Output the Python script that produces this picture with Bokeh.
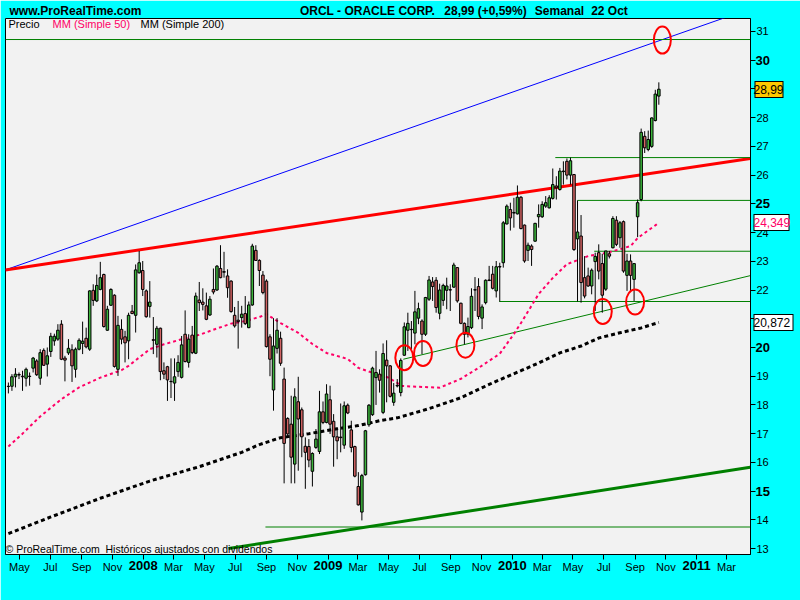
import pandas as pd
from bokeh.plotting import figure
from bokeh.models import Range1d, FixedTicker, Label, LinearAxis
from bokeh.embed import file_html
from bokeh.resources import INLINE

FONT = "Liberation Sans"
EPOCH = pd.Timestamp("2007-01-01")

# ORCL weekly bars, one per week (Monday), Apr 2007 - Oct 2010
first_week = "2007-04-09"
opens = [
    18.64, 18.65, 18.98, 19.06, 19.00, 18.93, 19.00, 19.28, 19.53, 18.93,
    19.90, 19.42, 19.86, 20.23, 20.29, 20.81, 19.63, 19.81, 19.92, 19.24,
    19.94, 20.14, 20.32, 19.94, 21.99, 21.62, 22.02, 22.54, 20.60, 21.47,
    21.82, 19.24, 20.63, 20.37, 20.23, 21.26, 21.12, 22.60, 22.68, 21.97,
    21.43, 20.27, 20.11, 20.67, 19.19, 19.33, 18.82, 18.76, 19.16, 18.96,
    20.46, 19.48, 20.43, 19.80, 21.65, 21.58, 21.45, 21.13, 22.02, 22.00,
    22.75, 22.64, 22.49, 22.31, 21.12, 20.95, 21.04, 21.18, 20.69, 21.48,
    23.38, 23.03, 22.52, 22.31, 20.37, 18.52, 19.97, 20.32, 18.90, 17.53,
    17.33, 15.94, 18.11, 17.83, 16.56, 16.55, 15.69, 16.52, 16.38, 17.76,
    17.39, 18.18, 17.43, 16.89, 16.88, 16.60, 17.99, 17.13, 16.55, 15.16,
    14.27, 15.57, 17.31, 17.66, 18.95, 19.07, 17.74, 19.56, 19.36, 18.09,
    18.68, 18.43, 19.73, 20.60, 20.63, 20.50, 21.02, 20.92, 20.46, 21.68,
    22.28, 22.34, 21.19, 21.64, 21.99, 22.01, 22.10, 22.78, 21.54, 20.84,
    20.46, 20.69, 22.01, 22.12, 21.02, 21.56, 22.35, 22.55, 21.97, 22.82,
    22.95, 24.30, 24.80, 24.70, 24.65, 25.23, 24.26, 23.38, 23.53, 23.70,
    24.55, 24.55, 24.92, 24.86, 25.19, 25.62, 25.50, 26.12, 26.48, 26.00,
    26.02, 23.78, 23.88, 22.43, 22.49, 22.14, 22.99, 23.30, 22.92, 22.03,
    23.26, 23.47, 24.43, 23.82, 24.38, 22.51, 23.01, 22.37, 24.55, 25.15,
    27.35, 26.89, 27.00, 27.90, 28.75,
]
highs = [
    18.78, 19.07, 19.28, 19.13, 19.19, 19.30, 19.13, 19.67, 19.59, 19.94,
    19.97, 20.00, 20.51, 20.48, 20.81, 20.95, 19.71, 20.29, 20.11, 20.00,
    20.32, 20.90, 20.69, 21.99, 22.20, 22.54, 22.98, 22.57, 21.45, 22.06,
    21.85, 21.10, 20.98, 20.58, 21.21, 21.48, 22.89, 23.36, 23.01, 22.02,
    22.31, 21.06, 20.75, 20.69, 19.48, 19.36, 19.62, 19.62, 19.73, 20.40,
    21.29, 20.46, 20.75, 21.91, 22.28, 22.06, 21.91, 21.79, 22.75, 22.87,
    23.56, 23.33, 22.72, 22.34, 21.41, 21.62, 21.45, 21.79, 21.60, 23.61,
    23.56, 23.07, 22.66, 22.37, 20.46, 21.02, 21.02, 20.55, 19.30, 17.57,
    18.32, 18.58, 18.98, 17.91, 16.87, 16.81, 16.35, 17.16, 18.49, 18.12,
    18.72, 18.67, 17.68, 17.16, 18.05, 18.12, 18.05, 17.45, 16.58, 15.66,
    15.60, 17.13, 18.03, 19.33, 19.88, 19.24, 20.14, 20.25, 19.39, 18.76,
    18.90, 19.62, 20.87, 21.21, 20.92, 21.97, 21.56, 20.98, 21.76, 22.49,
    22.45, 22.45, 22.22, 22.22, 22.43, 22.20, 22.95, 22.80, 21.56, 20.87,
    21.04, 22.06, 22.45, 22.41, 21.50, 22.37, 22.84, 22.84, 23.01, 22.95,
    24.40, 24.98, 25.04, 25.21, 25.64, 25.27, 24.28, 23.65, 23.59, 24.34,
    24.98, 25.09, 25.27, 25.30, 26.23, 25.96, 26.25, 26.48, 26.58, 26.61,
    26.04, 25.12, 24.61, 23.18, 22.78, 22.75, 23.30, 23.59, 23.26, 23.36,
    23.36, 24.57, 24.57, 24.40, 24.42, 23.26, 23.24, 22.93, 25.15, 27.62,
    27.53, 27.55, 28.01, 28.97, 29.23,
]
lows = [
    18.40, 18.49, 18.61, 18.90, 18.49, 18.64, 18.67, 19.13, 19.01, 18.70,
    19.36, 18.99, 19.67, 20.06, 20.23, 19.56, 18.82, 19.74, 18.80, 18.95,
    19.90, 19.77, 19.97, 19.88, 21.45, 21.58, 21.99, 20.69, 20.58, 21.45,
    19.30, 19.01, 20.11, 19.48, 19.59, 21.16, 20.52, 22.57, 21.79, 21.04,
    21.04, 19.77, 19.65, 18.86, 18.90, 18.14, 18.24, 18.14, 18.98, 18.92,
    19.48, 19.30, 19.77, 19.77, 21.27, 21.29, 20.95, 21.10, 21.85, 21.97,
    22.41, 22.43, 21.73, 21.21, 20.69, 19.96, 20.69, 20.78, 20.67, 21.45,
    23.01, 22.14, 21.85, 20.00, 19.00, 17.80, 19.79, 19.36, 15.27, 16.87,
    15.27, 15.27, 15.71, 16.18, 15.08, 15.83, 15.16, 16.47, 16.29, 17.33,
    17.36, 16.99, 15.85, 16.11, 16.35, 16.47, 17.68, 16.35, 15.48, 14.50,
    13.98, 15.54, 17.24, 17.62, 18.00, 18.43, 17.68, 18.09, 18.26, 17.97,
    18.61, 18.30, 19.71, 19.88, 19.94, 20.11, 20.81, 19.77, 20.40, 21.62,
    21.62, 21.21, 20.98, 21.45, 21.33, 21.27, 22.08, 21.56, 20.81, 20.11,
    20.35, 20.64, 21.27, 20.98, 20.64, 21.50, 22.31, 22.02, 21.74, 21.60,
    22.78, 24.28, 24.07, 24.17, 24.63, 24.11, 22.95, 23.01, 22.84, 23.68,
    24.17, 24.51, 24.86, 24.84, 25.15, 25.15, 25.46, 25.67, 25.85, 25.67,
    23.36, 21.60, 21.56, 21.71, 22.11, 21.85, 21.27, 22.37, 21.21, 21.97,
    23.10, 23.45, 23.53, 23.47, 22.60, 21.97, 21.97, 21.62, 23.84, 25.09,
    26.77, 26.83, 26.95, 27.87, 28.45,
]
closes = [
    18.65, 18.98, 19.07, 19.04, 18.98, 19.24, 18.99, 19.63, 19.05, 19.82,
    19.38, 19.71, 20.39, 20.39, 20.60, 19.59, 19.56, 19.97, 19.36, 19.94,
    20.25, 20.22, 20.02, 21.97, 21.64, 22.16, 22.43, 20.73, 21.33, 22.02,
    19.34, 20.77, 20.29, 20.16, 21.12, 21.18, 22.70, 22.95, 22.02, 21.07,
    21.58, 20.25, 20.67, 19.16, 19.07, 18.87, 18.81, 18.98, 19.48, 20.09,
    19.51, 20.29, 19.82, 21.79, 21.56, 21.50, 20.98, 21.68, 21.93, 22.83,
    22.43, 22.62, 22.08, 21.25, 20.75, 20.90, 21.16, 20.83, 21.48, 23.53,
    23.03, 22.68, 21.91, 20.03, 19.59, 20.05, 20.60, 19.45, 16.66, 16.99,
    16.18, 18.28, 17.51, 16.89, 16.35, 16.08, 16.31, 16.81, 17.76, 17.39,
    18.38, 17.33, 16.89, 16.75, 16.86, 17.97, 17.72, 16.52, 15.52, 14.52,
    15.54, 17.10, 17.99, 19.28, 19.13, 18.86, 19.79, 19.36, 18.30, 18.41,
    18.66, 19.55, 20.72, 20.84, 20.62, 21.24, 21.35, 20.46, 21.74, 22.35,
    22.12, 21.39, 22.00, 22.16, 22.14, 22.00, 22.87, 21.62, 20.84, 20.46,
    20.73, 21.78, 22.00, 21.08, 21.41, 22.34, 22.33, 22.06, 22.81, 22.80,
    24.34, 24.92, 24.51, 24.68, 25.23, 24.14, 23.01, 23.56, 23.41, 24.32,
    24.63, 24.98, 25.04, 25.21, 25.67, 25.56, 26.14, 26.14, 26.00, 26.50,
    23.41, 24.02, 22.26, 21.79, 22.14, 22.69, 23.17, 22.66, 21.82, 23.36,
    23.18, 24.49, 23.59, 24.34, 22.66, 23.01, 22.51, 22.92, 25.04, 27.49,
    26.95, 27.24, 27.99, 28.82, 28.99,
]

# moving averages, sampled at week numbers (1 = first bar)
ma50_week = [1, 5, 10, 16, 21, 27, 33, 35, 38, 41, 45, 51, 55, 60, 64, 68, 72, 74,
             78, 83, 87, 91, 97, 100, 104, 108, 111, 112, 123, 129, 134, 140, 144,
             146, 151, 155, 159, 165, 170, 174, 177, 179, 184, 185]
ma50_value = [16.55, 17.00, 17.60, 18.20, 18.61, 18.95, 19.21, 19.36, 19.65, 19.94,
              20.11, 20.32, 20.44, 20.66, 20.83, 20.92, 21.06, 21.16, 20.85, 20.51,
              20.12, 19.81, 19.60, 19.29, 19.12, 18.98, 18.77, 18.66, 18.60, 18.91,
              19.29, 19.78, 20.47, 20.85, 21.86, 22.42, 22.90, 23.18, 23.29, 23.42,
              23.53, 23.81, 24.25, 24.349]
ma200_week = [1, 13, 27, 41, 55, 67, 72, 78, 86, 94, 100, 106, 111, 120, 129, 138,
              146, 151, 157, 163, 168, 174, 180, 185]
ma200_value = [13.52, 14.10, 14.75, 15.35, 15.85, 16.35, 16.62, 16.86, 17.00, 17.17,
               17.28, 17.45, 17.55, 17.87, 18.25, 18.77, 19.19, 19.46, 19.81, 20.05,
               20.33, 20.51, 20.68, 20.872]

# drawn trend lines: (start date, start price, end date, end price)
blue_trend = ("2007-04-03", 22.70, "2011-04-17", 31.79)
red_trend = ("2007-04-03", 22.70, "2011-04-17", 26.58)
green_base = ("2008-06-18", 13.00, "2011-04-17", 15.83)
green_support = ("2009-05-30", 19.59, "2011-04-17", 22.50)

# horizontal levels and where each one starts
level_price = [30.72, 26.61, 25.12, 23.35, 21.60, 13.75]
level_start = ["2007-04-03", "2010-03-27", "2010-05-10", "2010-06-12", "2009-12-06", "2008-08-30"]
level_end = "2011-04-17"

# circled touches
circle_date = ["2009-06-01", "2009-07-08", "2009-09-30", "2010-06-29", "2010-09-01", "2010-10-25"]
circle_price = [19.64, 19.79, 20.08, 21.25, 21.58, 30.70]

# axis ticks
x_tick_dates = ["2007-05-01", "2007-07-01", "2007-09-01", "2007-11-01", "2008-01-01",
                "2008-03-01", "2008-05-01", "2008-07-01", "2008-09-01", "2008-11-01",
                "2009-01-01", "2009-03-01", "2009-05-01", "2009-07-01", "2009-09-01",
                "2009-11-01", "2010-01-01", "2010-03-01", "2010-05-01", "2010-07-01",
                "2010-09-01", "2010-11-01", "2011-01-01", "2011-03-01"]
x_tick_labels = ["May", "Jul", "Sep", "Nov", "2008", "Mar", "May", "Jul", "Sep", "Nov",
                 "2009", "Mar", "May", "Jul", "Sep", "Nov", "2010", "Mar", "May", "Jul",
                 "Sep", "Nov", "2011", "Mar"]
y_ticks = list(range(13, 32))
y_bold_ticks = [15, 20, 25, 30]

last_close = 28.99
last_change = "+0,59%"
header_texts = ["www.ProRealTime.com", "ORCL - ORACLE CORP.",
                "%s (%s)" % (f"{last_close:.2f}".replace(".", ","), last_change),
                "Semanal", "22 Oct"]
header_centers_px = [75, 367, 485, 559, 609]


def day_num(dates):
    return list(((pd.to_datetime(pd.Series(dates)) - EPOCH) / pd.Timedelta(days=1)).astype(float))


def comma(v, nd):
    return f"{v:.{nd}f}".replace(".", ",")


weeks = day_num(pd.date_range(first_week, periods=len(closes), freq="7D"))

x0 = day_num(["2007-04-03 06:43"])[0]
x1 = day_num(["2011-04-17 12:30"])[0]


def px_to_day(px):
    # horizontal page position -> x coordinate (frame spans 5..750 px)
    return round(x0 + (px - 5) * (x1 - x0) / 745.0, 3)


p = figure(width=800, height=600, output_backend="svg", toolbar_location=None, tools="",
           x_range=Range1d(x0, x1), y_range=Range1d(12.793, 31.452),
           y_axis_location="right",
           min_border_left=5, min_border_right=50, min_border_top=17, min_border_bottom=46,
           background_fill_color="#F2F2F2", border_fill_color="#00FFFF",
           outline_line_color="black", outline_line_width=1)
p.grid.visible = False


def quiet_axis(ax):
    ax.axis_line_color = None
    ax.minor_tick_line_color = None
    ax.major_tick_line_color = None
    ax.major_tick_in = 0
    ax.major_tick_out = 0
    ax.major_label_text_font = FONT
    ax.major_label_text_color = "black"
    return ax


# x axis: month names; years drawn bold on a companion axis
xt = [int(v) for v in day_num(x_tick_dates)]
p.xaxis.ticker = FixedTicker(ticks=xt)
p.xaxis.major_label_overrides = {t: ("" if lab.isdigit() else lab) for t, lab in zip(xt, x_tick_labels)}
p.xaxis.major_tick_out = 5
p.xaxis.major_tick_in = 0
p.xaxis.minor_tick_line_color = None
p.xaxis.major_label_standoff = 1
p.xaxis.major_label_text_font = FONT
p.xaxis.major_label_text_font_size = "11px"
p.xaxis.major_label_text_color = "black"
p.xaxis.axis_line_color = "black"

year_ticks = [t for t, lab in zip(xt, x_tick_labels) if lab.isdigit()]
year_axis = quiet_axis(LinearAxis(ticker=FixedTicker(ticks=year_ticks)))
year_axis.major_label_overrides = {t: lab for t, lab in zip(xt, x_tick_labels) if lab.isdigit()}
year_axis.major_label_text_font_size = "13px"
year_axis.major_label_text_font_style = "bold"
year_axis.major_label_standoff = -15
p.add_layout(year_axis, "below")

# header line
hdr_ticks = [px_to_day(v) for v in header_centers_px]
hdr_axis = quiet_axis(LinearAxis(ticker=FixedTicker(ticks=hdr_ticks)))
hdr_axis.major_label_overrides = dict(zip(hdr_ticks, header_texts))
hdr_axis.major_label_text_font_size = "12px"
hdr_axis.major_label_text_font_style = "bold"
hdr_axis.major_label_standoff = 1
p.add_layout(hdr_axis, "above")

# y axis
p.yaxis.ticker = FixedTicker(ticks=y_ticks)
p.yaxis.major_label_overrides = {t: ("" if t in y_bold_ticks else str(t)) for t in y_ticks}
p.yaxis.major_tick_out = 5
p.yaxis.major_tick_in = 0
p.yaxis.minor_tick_line_color = None
p.yaxis.major_label_standoff = 1
p.yaxis.major_label_text_font = FONT
p.yaxis.major_label_text_font_size = "11px"
p.yaxis.major_label_text_color = "black"
p.yaxis.axis_line_color = "black"

# round prices in bold, stacked right after the main scale and pulled back onto it
bold_axis = quiet_axis(LinearAxis(ticker=FixedTicker(ticks=y_bold_ticks)))
bold_axis.major_label_overrides = {t: str(t) for t in y_bold_ticks}
bold_axis.major_label_text_font_size = "13px"
bold_axis.major_label_text_font_style = "bold"
bold_axis.major_label_standoff = -16
p.add_layout(bold_axis, "right")

# last values on the price scale: the major tick draws the box outline,
# the minor tick its fill, and the label the value
last_values = [last_close, ma50_value[-1], ma200_value[-1]]


def value_box(value, text, text_color, fill, tin, tout, standoff):
    ax = LinearAxis(ticker=FixedTicker(ticks=[value], minor_ticks=[value]))
    ax.axis_line_color = None
    ax.major_tick_line_color = "black"
    ax.major_tick_line_width = 17
    ax.major_tick_line_cap = "butt"
    ax.major_tick_in = tin
    ax.major_tick_out = tout
    ax.minor_tick_line_color = fill
    ax.minor_tick_line_width = 15
    ax.minor_tick_line_cap = "butt"
    ax.minor_tick_in = tin - 1
    ax.minor_tick_out = tout - 1
    ax.major_label_overrides = {value: text}
    ax.major_label_text_font = FONT
    ax.major_label_text_font_size = "12px"
    ax.major_label_text_color = text_color
    ax.major_label_standoff = standoff
    p.add_layout(ax, "right")


value_box(last_values[0], comma(last_values[0], 2), "black", "#FFC800", 18, 11, -30)
value_box(last_values[1], comma(last_values[1], 3), "#FF0066", "white", 33, 3, -36)
value_box(last_values[2], comma(last_values[2], 3), "black", "white", 40, 0, -40)

# trend lines and levels
for (d0, v0, d1, v1), col, w in [(blue_trend, "#0000FF", 1), (red_trend, "#FF0000", 3),
                                  (green_base, "#008000", 3), (green_support, "#008000", 1)]:
    p.line(day_num([d0, d1]), [v0, v1], line_color=col, line_width=w)
for lv, ls in zip(level_price, level_start):
    p.line(day_num([ls, level_end]), [lv, lv], line_color="#008000", line_width=1)

# moving averages
p.line([weeks[i - 1] for i in ma200_week], ma200_value, line_color="black",
       line_width=3, line_dash="4 3")
p.line([weeks[i - 1] for i in ma50_week], ma50_value, line_color="#FF0066",
       line_width=2, line_dash="3 3")

# candles
up = [c >= o for o, c in zip(opens, closes)]
p.segment(x0=weeks, y0=lows, x1=weeks, y1=highs, line_color="black", line_width=1)
p.vbar(x=weeks, width=5.0,
       top=[max(o, c) for o, c in zip(opens, closes)],
       bottom=[min(o, c) for o, c in zip(opens, closes)],
       fill_color=["#3CB43C" if u else "#D26464" for u in up],
       line_color="black", line_width=1)

# circled touches
p.ellipse(x=day_num(circle_date), y=circle_price,
          width=[18, 18, 18, 18, 18, 17], height=[25, 25, 25, 25, 25, 27],
          width_units="screen", height_units="screen",
          fill_color=None, line_color="#FF0000", line_width=2)


def add_label(text, px, py, size="11px", color="black"):
    # px, py: position on the page; screen units count from the frame's lower-left corner
    p.add_layout(Label(x=px - 5, y=554 - py, x_units="screen", y_units="screen", text=text,
                       text_font=FONT, text_font_size=size, text_color=color,
                       text_align="left", text_baseline="middle"))


# legend
add_label("Precio", 8, 23)
add_label("MM (Simple 50)", 52, 23, color="#FF0066")
add_label("MM (Simple 200)", 140, 23)

# footer note
add_label("© ProRealTime.com", 5, 548, size="10.5px")
add_label("Históricos ajustados con dividendos", 105, 548, size="10.5px")

open("out.html", "w").write(file_html(p, INLINE))
